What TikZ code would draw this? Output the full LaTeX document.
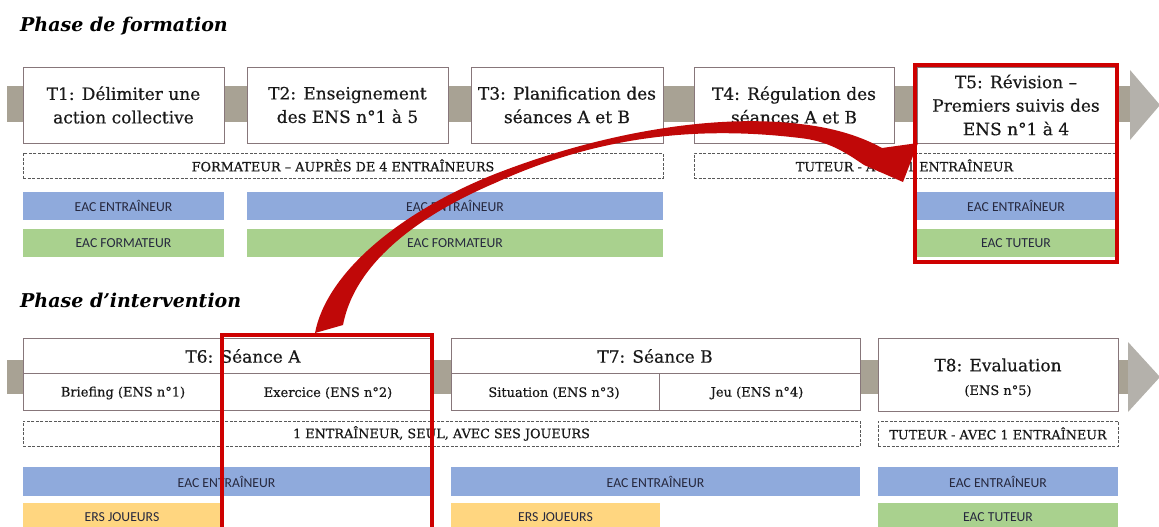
\documentclass[tikz,border=0pt]{standalone}
\usepackage{fontspec}
\setmainfont{DejaVu Serif}
\newfontfamily\slab[FakeBold=0.5]{DejaVu Serif}
\newfontfamily\barfont{Carlito}

\definecolor{bandgray}{RGB}{168,162,148}
\definecolor{headgray}{RGB}{180,177,171}
\definecolor{boxline}{RGB}{135,118,122}
\definecolor{eacblue}{RGB}{143,170,220}
\definecolor{eacgreen}{RGB}{169,209,142}
\definecolor{ersorange}{RGB}{255,214,128}
\definecolor{framered}{RGB}{206,0,0}
\definecolor{arrowred}{RGB}{192,8,8}
\definecolor{bartext}{RGB}{38,40,62}

\tikzset{
  task/.style={draw=boxline, line width=0.9pt, fill=white, inner sep=0pt, outer sep=0pt, align=center,
    text=black!90, font=\slab\fontsize{17}{23.5}\selectfont},
  subtask/.style={inner sep=0pt, text=black!90, font=\slab\fontsize{13}{15}\selectfont},
  role/.style={draw=black!65, line width=0.8pt, dash pattern=on 3pt off 1.5pt, fill=white, inner sep=0pt,
    outer sep=0pt, text=black!90, font=\slab\fontsize{12.8}{14}\selectfont},
  eacbar/.style={inner sep=0pt, outer sep=0pt, text=bartext, font=\barfont\fontsize{13.7}{15}\selectfont},
  phasetitle/.style={anchor=west, inner sep=0pt, font=\bfseries\itshape\fontsize{19}{22}\selectfont},
  hilite/.style={draw=framered, line width=4pt}
}

\begin{document}
\begin{tikzpicture}[x=1pt,y=-1pt]
  \useasboundingbox (0,0) rectangle (1159,527);
  \clip (0,0) rectangle (1159,527);

  % Phase de formation
  \node[phasetitle] (p1) at (20,26) {Phase de formation};

  \fill[bandgray] (7,86) rectangle (1132,122);
  \fill[headgray] (1130,70) -- (1160,105) -- (1130,140) -- cycle;

  \node[task, minimum width=201pt, minimum height=76pt] (t1) at (123.5,105) {T1: Délimiter une\\action collective};
  \node[task, minimum width=201pt, minimum height=76pt] (t2) at (347.5,105) {T2: Enseignement\\des ENS n°1 à 5};
  \node[task, minimum width=192pt, minimum height=76pt] (t3) at (567,105) {T3: Planification des\\séances A et B};
  \node[task, minimum width=200pt, minimum height=76pt] (t4) at (794,105) {T4: Régulation des\\séances A et B};
  \node[task, minimum width=198pt, minimum height=76pt] (t5) at (1016,105) {T5: Révision –\\Premiers suivis des\\ENS n°1 à 4};

  \node[role, minimum width=640pt, minimum height=25pt] (r1) at (343,165.5) {FORMATEUR – AUPRÈS DE 4 ENTRAÎNEURS};
  \node[role, minimum width=421pt, minimum height=25pt] (r2) at (904.5,165.5) {TUTEUR - AVEC 1 ENTRAÎNEUR};

  \node[eacbar, fill=eacblue, minimum width=201pt, minimum height=28pt] (b1) at (123.5,206) {EAC ENTRAÎNEUR};
  \node[eacbar, fill=eacblue, minimum width=416pt, minimum height=28pt] (b2) at (455,206) {EAC ENTRAÎNEUR};
  \node[eacbar, fill=eacblue, minimum width=198pt, minimum height=28pt] (b3) at (1016,206) {EAC ENTRAÎNEUR};
  \node[eacbar, fill=eacgreen, minimum width=201pt, minimum height=28pt] (g1) at (123.5,243) {EAC FORMATEUR};
  \node[eacbar, fill=eacgreen, minimum width=416pt, minimum height=28pt] (g2) at (455,243) {EAC FORMATEUR};
  \node[eacbar, fill=eacgreen, minimum width=198pt, minimum height=28pt] (g3) at (1016,243) {EAC TUTEUR};

  % Phase d'intervention
  \node[phasetitle] (p2) at (20,300) {Phase d’intervention};

  \fill[bandgray] (7,360) rectangle (1130,394);
  \fill[headgray] (1128,342) -- (1160,377) -- (1128,412) -- cycle;

  \node[task, minimum width=409pt, minimum height=72pt] (t6) at (227.5,374) {};
  \draw[boxline, line width=0.9pt] (23,373) -- (432,373) (222,373) -- (222,410);
  \node[task, draw=none, fill=none] at (243,356) {T6: Séance A};
  \node[subtask] at (123,393) {Briefing (ENS n°1)};
  \node[subtask] at (328,393) {Exercice (ENS n°2)};

  \node[task, minimum width=409pt, minimum height=72pt] (t7) at (655.5,374) {};
  \draw[boxline, line width=0.9pt] (451,373) -- (860,373) (659,373) -- (659,410);
  \node[task, draw=none, fill=none] at (655,356) {T7: Séance B};
  \node[subtask] at (554,393) {Situation (ENS n°3)};
  \node[subtask] at (757,393) {Jeu (ENS n°4)};

  \node[task, minimum width=240pt, minimum height=73pt] (t8) at (998,374.5) {};
  \node[task, draw=none, fill=none] at (998,365) {T8: Evaluation};
  \node[subtask] at (998,391) {(ENS n°5)};

  \node[role, minimum width=837pt, minimum height=25pt] (r3) at (441.5,433.5) {1 ENTRAÎNEUR, SEUL, AVEC SES JOUEURS};
  \node[role, minimum width=240pt, minimum height=25pt] (r4) at (998,433.5) {TUTEUR - AVEC 1 ENTRAÎNEUR};

  \node[eacbar, fill=eacblue, minimum width=407pt, minimum height=29pt] (b4) at (226.5,481.5) {EAC ENTRAÎNEUR};
  \node[eacbar, fill=eacblue, minimum width=409pt, minimum height=29pt] (b5) at (655.5,481.5) {EAC ENTRAÎNEUR};
  \node[eacbar, fill=eacblue, minimum width=240pt, minimum height=29pt] (b6) at (998,481.5) {EAC ENTRAÎNEUR};
  \node[eacbar, fill=ersorange, minimum width=198pt, minimum height=28pt] (o1) at (122,517) {ERS JOUEURS};
  \node[eacbar, fill=ersorange, minimum width=209pt, minimum height=28pt] (o2) at (555.5,517) {ERS JOUEURS};
  \node[eacbar, fill=eacgreen, minimum width=240pt, minimum height=28pt] (g4) at (998,517) {EAC TUTEUR};

  % highlight frames and the curved arrow
  \draw[hilite] (222,335) rectangle (432,540);
  \fill[arrowred] (315,333)
    .. controls (326,275) and (395,215) .. (490,176)
    .. controls (580,140) and (700,112) .. (800,124)
    .. controls (836,128) and (862,137) .. (882,148)
    -- (918,143) -- (903,182) -- (864,165)
    .. controls (845,152) and (828,141) .. (800,138)
    .. controls (700,126) and (600,135) .. (495,183)
    .. controls (420,215) and (355,262) .. (343,325)
    -- cycle;
  \draw[hilite] (915,65) rectangle (1117,262);
\end{tikzpicture}
\end{document}
